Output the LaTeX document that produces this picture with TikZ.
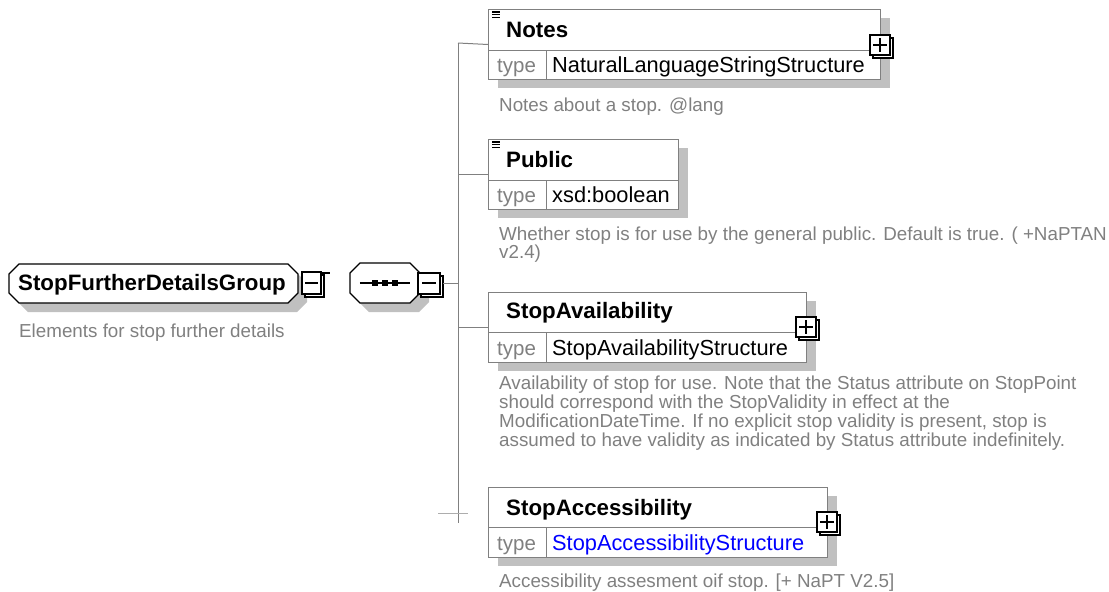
\documentclass[tikz,border=0pt]{standalone}
\usepackage{fontspec}
\setmainfont{Liberation Sans}
\definecolor{shadowgray}{RGB}{192,192,192}
\definecolor{descgray}{RGB}{128,128,128}
\definecolor{linegray}{RGB}{128,128,128}
\definecolor{linkblue}{RGB}{0,0,255}
\newcommand\myocta[5]{% x1 y1 x2 y2 chamfer
  ({#1+#5},#2) -- ({#3-#5},#2) -- (#3,{#2+#5}) -- (#3,{#4-#5}) -- ({#3-#5},#4) -- ({#1+#5},#4) -- (#1,{#4-#5}) -- (#1,{#2+#5}) -- cycle}
\tikzset{
  title/.style={anchor=base west, inner sep=0pt, font=\fontsize{22.3}{26}\selectfont\bfseries},
  typelbl/.style={anchor=base west, inner sep=0pt, text=descgray, font=\fontsize{20.5}{24}\selectfont},
  typeval/.style={anchor=base west, inner sep=0pt, font=\fontsize{21.8}{26}\selectfont},
  desc/.style={anchor=base west, inner sep=0pt, text=descgray, font=\fontsize{18.8}{19}\selectfont},
  conn/.style={draw=linegray, line width=1pt},
  boxline/.style={draw=linegray, line width=1pt},
  elbox/.style={boxline, fill=white, anchor=north west, inner sep=0pt},
  shadowbox/.style={fill=shadowgray, draw=none, anchor=north west, inner sep=0pt},
  btn/.style={draw=black, line width=1.3pt, fill=white},
  icon/.style={line width=1.3pt},
}
\begin{document}
\begin{tikzpicture}[x=1pt,y=-1pt]
\useasboundingbox (0,0) rectangle (1109,592);

% ---------- group node ----------
\fill[shadowgray] \myocta{18}{273}{307}{312}{10};
\draw[line width=1.3pt, fill=white] \myocta{9}{264}{298}{303}{10};
\node[title] (grp) at (18,290) {StopFurtherDetailsGroup};
\node[desc] (grpdesc) at (19,337) {Elements for stop further details};
% minus button of group
\draw[btn] (305,275) rectangle (324,297);
\draw[btn] (302,272) rectangle (321,294);
\draw[line width=1.3pt] (305,283) -- (318,283);
\draw[line width=1.3pt] (321,273) -- (330,273);

% ---------- sequence node ----------
\fill[shadowgray] \myocta{359}{272}{429}{312}{10};
\draw[line width=1.3pt, fill=white] \myocta{350}{263}{420}{303}{10};
\node[inner sep=0pt, minimum width=50pt, minimum height=8pt] (seq) at (385,283) {};
\draw[line width=1.3pt] (seq.west) -- (seq.east);
\foreach \cx in {375,385,395} \fill (\cx-3,280) rectangle (\cx+3,286);
\draw[btn] (421,276) rectangle (443,297);
\draw[btn] (418,273) rectangle (440,294);
\draw[line width=1.3pt] (422,283) -- (436,283);
\coordinate (seqout) at (443,283);

% ---------- vertical bus ----------
\coordinate (vtop) at (458,43);
\coordinate (vbot) at (458,523);
\draw[conn] (vtop) -- (vbot);
\draw[conn] (seqout) -- (seqout -| vtop);
\coordinate (xl) at (438,513);
\coordinate (xr) at (468,513);
\draw[conn, draw=shadowgray!70!linegray] (xl) -- (xr);

% ---------- Notes ----------
\node[shadowbox, minimum width=392pt, minimum height=70pt] (notesshadow) at (498,18) {};
\node[elbox, minimum width=392pt, minimum height=70pt] (notes) at (488,9) {};
\draw[boxline] (notes.west |- 0,50) -- (notes.east |- 0,50);
\draw[boxline] (546,50) -- (notes.south -| 546,0);
\foreach \yy in {12,14.7,17.4} \draw[icon] (492,\yy) -- (500,\yy);
\node[title] (notesname) at (506,37) {Notes};
\node[typelbl] (notestype) at (497,72) {type};
\node[typeval] (notesval) at (552,72) {NaturalLanguageStringStructure};
\draw[btn] (873,38) rectangle (893,58);
\draw[btn] (870,35) rectangle (890,55);
\draw[line width=1.3pt] (873,45) -- (887,45) (880,38) -- (880,52);
\node[desc] (notesdesc) at (499,111) {Notes about a stop. @lang};
\draw[conn] (vtop) -- (notes.west);

% ---------- Public ----------
\node[shadowbox, minimum width=190pt, minimum height=70pt] (pubshadow) at (498,148) {};
\node[elbox, minimum width=190pt, minimum height=70pt] (public) at (488,139) {};
\draw[boxline] (public.west |- 0,180) -- (public.east |- 0,180);
\draw[boxline] (546,180) -- (public.south -| 546,0);
\foreach \yy in {142,144.7,147.4} \draw[icon] (492,\yy) -- (500,\yy);
\node[title] (pubname) at (506,167) {Public};
\node[typelbl] (pubtype) at (497,202) {type};
\node[typeval] (pubval) at (552,202) {xsd:boolean};
\node[desc] (pubdesc1) at (499,240) {Whether stop is for use by the general public. Default is true. ( +NaPTAN};
\node[desc] (pubdesc2) at (499,258) {v2.4)};
\draw[conn] (public.west -| vtop) -- (public.west);

% ---------- StopAvailability ----------
\node[shadowbox, minimum width=318pt, minimum height=70pt] (avshadow) at (498,301) {};
\node[elbox, minimum width=318pt, minimum height=70pt] (avail) at (488,292) {};
\draw[boxline] (avail.west |- 0,332) -- (avail.east |- 0,332);
\draw[boxline] (546,332) -- (avail.south -| 546,0);
\node[title] (avname) at (506,318) {StopAvailability};
\node[typelbl] (avtype) at (497,355) {type};
\node[typeval] (avval) at (552,355) {StopAvailabilityStructure};
\draw[btn] (799,320) rectangle (819,340);
\draw[btn] (796,317) rectangle (816,337);
\draw[line width=1.3pt] (799,327) -- (813,327) (806,320) -- (806,334);
\node[desc] (avdesc1) at (499,389) {Availability of stop for use. Note that the Status attribute on StopPoint};
\node[desc] (avdesc2) at (499,408) {should correspond with the StopValidity in effect at the};
\node[desc] (avdesc3) at (499,427) {ModificationDateTime. If no explicit stop validity is present, stop is};
\node[desc] (avdesc4) at (499,446) {assumed to have validity as indicated by Status attribute indefinitely.};
\draw[conn] (avail.west -| vtop) -- (avail.west);

% ---------- StopAccessibility ----------
\node[shadowbox, minimum width=339pt, minimum height=70pt] (acshadow) at (498,496) {};
\node[elbox, minimum width=339pt, minimum height=70pt] (access) at (488,487) {};
\draw[boxline] (access.west |- 0,527) -- (access.east |- 0,527);
\draw[boxline] (546,527) -- (access.south -| 546,0);
\node[title] (acname) at (506,515) {StopAccessibility};
\node[typelbl] (actype) at (497,550) {type};
\node[typeval, text=linkblue] (acval) at (552,550) {StopAccessibilityStructure};
\draw[btn] (820,515) rectangle (840,535);
\draw[btn] (817,512) rectangle (837,532);
\draw[line width=1.3pt] (820,522) -- (834,522) (827,515) -- (827,529);
\node[desc] (acdesc) at (499,587) {Accessibility assesment oif stop. [+ NaPT V2.5]};
\end{tikzpicture}
\end{document}
